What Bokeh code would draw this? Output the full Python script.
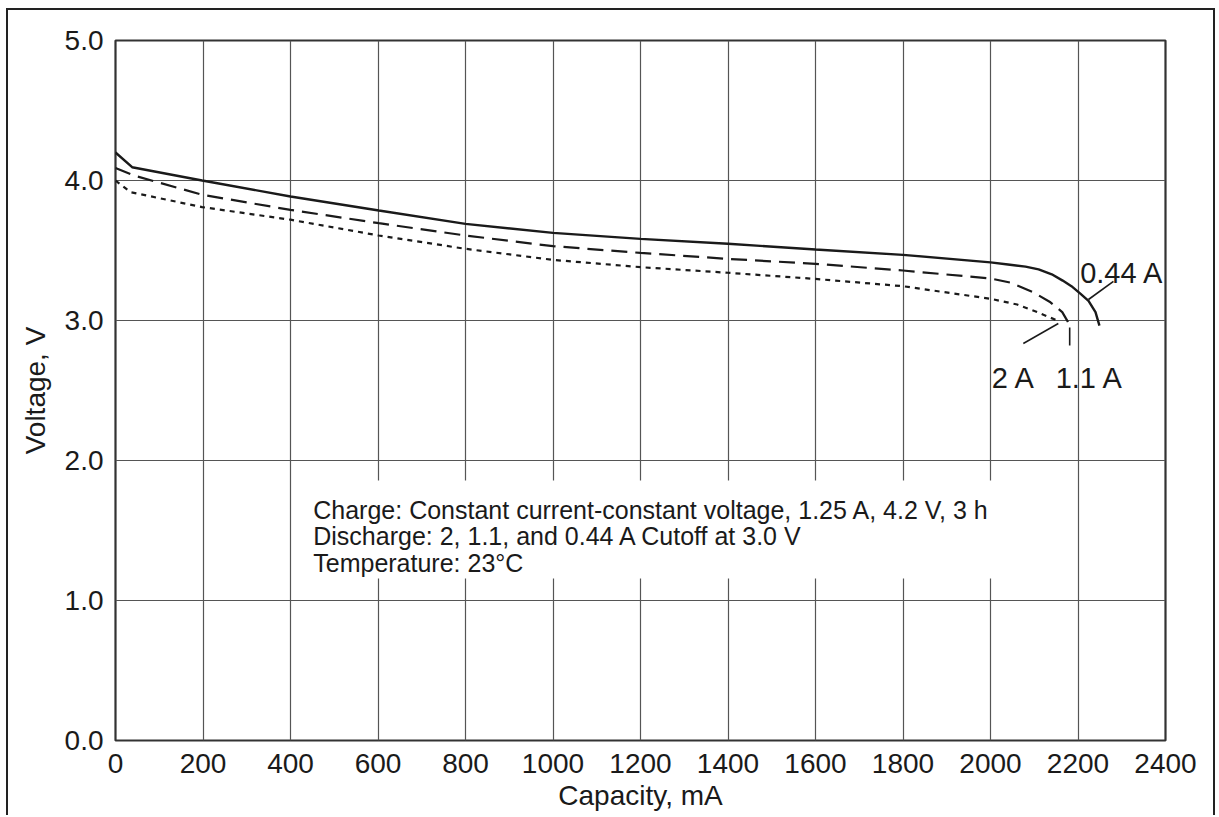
from bokeh.plotting import figure
from bokeh.models import Range1d, FixedTicker, NumeralTickFormatter
from bokeh.core.properties import value
from bokeh.embed import file_html
from bokeh.resources import INLINE

# 0.44 A discharge (solid)
cap_044 = [0, 38, 198, 400, 602, 800, 1000, 1200, 1400, 1600, 1800, 2000, 2040, 2080, 2110, 2140, 2165, 2185, 2206, 2224, 2240, 2249]
v_044 = [4.20, 4.095, 4.00, 3.886, 3.786, 3.69, 3.626, 3.583, 3.548, 3.507, 3.469, 3.415, 3.40, 3.385, 3.365, 3.33, 3.285, 3.245, 3.19, 3.14, 3.06, 2.964]

# 1.1 A discharge (long dash)
cap_11 = [0, 42, 198, 400, 602, 800, 1000, 1200, 1400, 1600, 1800, 2000, 2046, 2099, 2137, 2164, 2177, 2184]
v_11 = [4.09, 4.036, 3.898, 3.79, 3.695, 3.607, 3.531, 3.483, 3.44, 3.405, 3.357, 3.30, 3.27, 3.20, 3.13, 3.06, 2.99, 2.94]

# 2 A discharge (short dash)
cap_2 = [0, 34, 198, 400, 602, 800, 1000, 1200, 1400, 1600, 1800, 2000, 2061, 2107, 2137, 2152]
v_2 = [4.00, 3.917, 3.81, 3.72, 3.607, 3.512, 3.433, 3.381, 3.341, 3.297, 3.245, 3.155, 3.114, 3.06, 3.02, 3.0]

x_ticks = list(range(0, 2401, 200))
y_ticks = [0, 1, 2, 3, 4, 5]

curve_labels = ["0.44 A", "2 A", "1.1 A"]
curve_label_x = [2205, 2003, 2149]
curve_label_y = [3.336, 2.586, 2.586]

leader_x = [[2281, 2224], [2075, 2155], [2181, 2181]]
leader_y = [[3.279, 3.150], [2.836, 2.979], [2.95, 2.821]]

note_lines = [
    "Charge: Constant current-constant voltage, 1.25 A, 4.2 V, 3 h",
    "Discharge: 2, 1.1, and 0.44 A Cutoff at 3.0 V",
    "Temperature: 23\u00b0C",
]
note_x = [452, 452, 452]
note_y = [1.65, 1.464, 1.271]

FONT = "Liberation Sans"
INK = "#1a1a1a"

p = figure(
    width=1209, height=807,
    x_range=Range1d(0, 2400), y_range=Range1d(0, 5),
    output_backend="svg", toolbar_location=None,
    min_border_left=107, min_border_right=52, min_border_top=30, min_border_bottom=77,
    styles={
        "border-left": "2px solid #222",
        "border-right": "2px solid #222",
        "border-top": "2px solid #222",
        "margin-left": "6px",
        "margin-top": "8px",
    },
)
p.background_fill_color = "white"
p.border_fill_color = "white"
p.outline_line_color = "#333333"
p.outline_line_width = 2.2

p.xaxis.ticker = FixedTicker(ticks=x_ticks)
p.yaxis.ticker = FixedTicker(ticks=y_ticks)
p.yaxis.formatter = NumeralTickFormatter(format="0.0")
p.xaxis.formatter = NumeralTickFormatter(format="0")

for ax in (p.xaxis[0], p.yaxis[0]):
    ax.axis_line_color = None
    ax.major_tick_out = 0
    ax.major_tick_in = 0
    ax.minor_tick_out = 0
    ax.minor_tick_in = 0
    ax.major_label_text_font = FONT
    ax.major_label_text_font_size = "28px"
    ax.major_label_text_color = INK
    ax.axis_label_text_font = FONT
    ax.axis_label_text_font_size = "28px"
    ax.axis_label_text_font_style = "normal"
    ax.axis_label_text_color = INK

p.xaxis.axis_label = "Capacity, mA"
p.yaxis.axis_label = "Voltage, V"
p.xaxis.major_label_standoff = 13
p.xaxis.axis_label_standoff = 4
p.yaxis.major_label_standoff = 12
p.yaxis.axis_label_standoff = 11

p.xgrid.ticker = FixedTicker(ticks=x_ticks)
p.ygrid.ticker = FixedTicker(ticks=y_ticks)
p.grid.grid_line_color = "#555555"
p.grid.grid_line_width = 1.2

# white box behind the note
p.quad(left=[423], right=[2050], bottom=[1.157], top=[1.857],
       fill_color="white", line_color=None)

p.line(cap_044, v_044, line_color=INK, line_width=2.4)
p.line(cap_11, v_11, line_color=INK, line_width=2.2, line_dash="16 8")
p.line(cap_2, v_2, line_color=INK, line_width=2.2, line_dash="5 5")

p.multi_line(leader_x, leader_y, line_color=INK, line_width=1.6)

p.text(curve_label_x, curve_label_y, text=curve_labels,
       text_font=value(FONT), text_font_size="29px", text_color=INK,
       text_baseline="alphabetic", text_align="left")

p.text(note_x, note_y, text=note_lines,
       text_font=value(FONT), text_font_size="25px", text_color=INK,
       text_baseline="alphabetic", text_align="left")

open("out.html", "w").write(file_html(p, INLINE))
